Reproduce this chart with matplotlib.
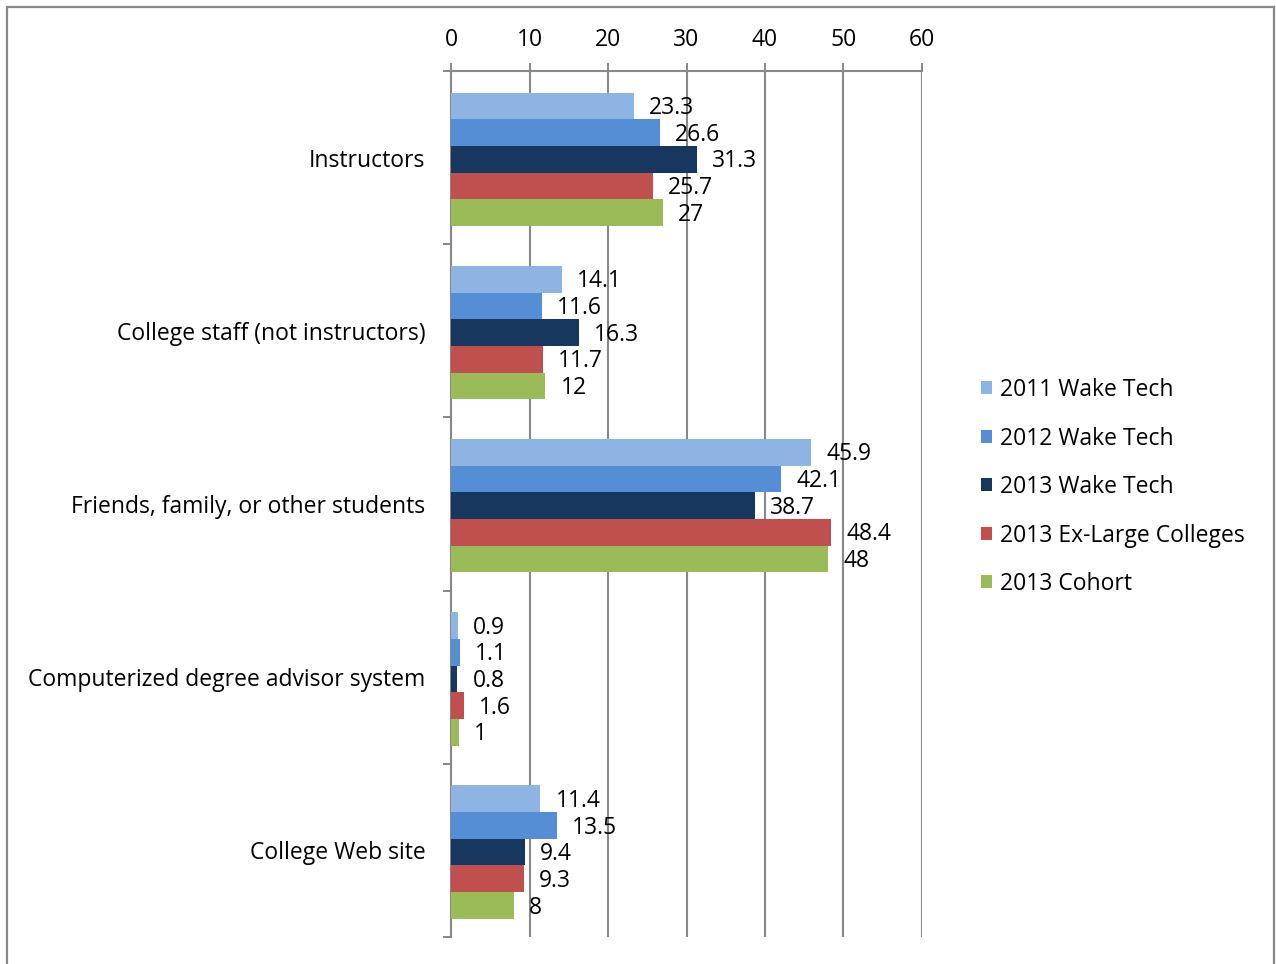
import matplotlib.pyplot as plt
import matplotlib.patches as mpatches
import numpy as np

plt.rcParams['font.family'] = ['Open Sans', 'DejaVu Sans']

categories = ['Instructors', 'College staff (not instructors)', 'Friends, family, or other students',
              'Computerized degree advisor system', 'College Web site']
series = ['2011 Wake Tech', '2012 Wake Tech', '2013 Wake Tech', '2013 Ex-Large Colleges', '2013 Cohort']
wt2011 = [23.3, 14.1, 45.9, 0.9, 11.4]
wt2012 = [26.6, 11.6, 42.1, 1.1, 13.5]
wt2013 = [31.3, 16.3, 38.7, 0.8, 9.4]
exlarge2013 = [25.7, 11.7, 48.4, 1.6, 9.3]
cohort2013 = [27, 12, 48, 1, 8]
colors = ['#8EB4E3', '#558ED5', '#17375E', '#C0504D', '#9BBB59']

data = [wt2011, wt2012, wt2013, exlarge2013, cohort2013]
fs = 16.5

fig = plt.figure(figsize=[12.76, 9.64], dpi=100)
ax = fig.add_axes([451/1276, 1-937/964, (922-451)/1276, (937-71)/964])

y = np.arange(len(categories))
h = 0.154
for j, (vals, c, name) in enumerate(zip(data, colors, series)):
    pos = y + (j - 2) * h + 0.01
    ax.barh(pos, vals, height=h, color=c, label=name, zorder=3)
    for p, v in zip(pos, vals):
        ax.annotate('{:g}'.format(v), (v, p), xytext=(11, -1.5), textcoords='offset points',
                    va='center', ha='left', fontsize=fs, zorder=4)

ax.set_xlim(0, 60)
ax.set_ylim(len(categories) - 0.5, -0.5)
ax.set_xticks(np.arange(0, 61, 10))
ax.xaxis.tick_top()
ax.tick_params(axis='x', which='major', length=5.5, width=1.4, color='#888888', pad=8.5, labelsize=fs)
ax.set_yticks(y)
ax.set_yticklabels(categories)
ax.set_yticks(np.arange(-0.5, len(categories)), minor=True)
ax.tick_params(axis='y', which='major', length=0, pad=18.5, labelsize=fs)
ax.tick_params(axis='y', which='minor', length=6, width=1.4, color='#888888')
ax.grid(axis='x', color='#888888', linewidth=1.5, zorder=0)
for s in ['right', 'bottom']:
    ax.spines[s].set_visible(False)
for s in ['top', 'left']:
    ax.spines[s].set_color('#888888')
    ax.spines[s].set_linewidth(1.5)

fig.legend(loc='upper left', bbox_to_anchor=(981/1276, 1-378/964), frameon=False, fontsize=fs,
           handlelength=0.5, handleheight=0.5, handletextpad=0.35, labelspacing=1.07,
           borderaxespad=0, borderpad=0)

fig.add_artist(mpatches.Rectangle((7/1276, -0.05), (1274-7)/1276, 1.05 - 7/964, transform=fig.transFigure,
                                  fill=False, edgecolor='#888888', linewidth=1.6))

plt.savefig('out.png')
